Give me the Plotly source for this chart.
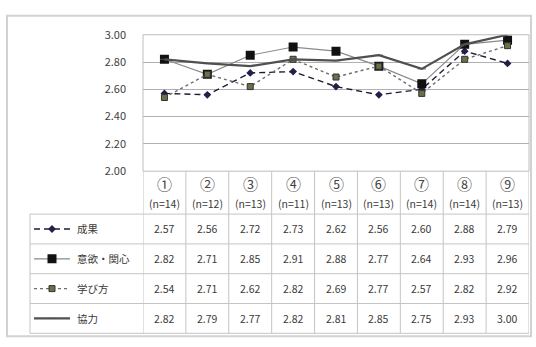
import plotly.graph_objects as go

W, H = 536, 347
groups = ["①", "②", "③", "④", "⑤", "⑥", "⑦", "⑧", "⑨"]
n_counts = [14, 12, 13, 11, 13, 13, 14, 14, 13]
series_names = ["成果", "意欲・関心", "学び方", "協力"]
seika = [2.57, 2.56, 2.72, 2.73, 2.62, 2.56, 2.60, 2.88, 2.79]
iyoku = [2.82, 2.71, 2.85, 2.91, 2.88, 2.77, 2.64, 2.93, 2.96]
manabikata = [2.54, 2.71, 2.62, 2.82, 2.69, 2.77, 2.57, 2.82, 2.92]
kyoryoku = [2.82, 2.79, 2.77, 2.82, 2.81, 2.85, 2.75, 2.93, 3.00]
y_ticks = [2.0, 2.2, 2.4, 2.6, 2.8, 3.0]

values = [seika, iyoku, manabikata, kyoryoku]

def py(p):
    return 1 - p / H

def px(p):
    return p / W

styles = [
    dict(line=dict(color="#1c1c34", width=1.4, dash="6px,4px"),
         marker=dict(symbol="diamond", size=6, color="#20204a")),
    dict(line=dict(color="#8a8a8a", width=1.2),
         marker=dict(symbol="square", size=9, color="#111111")),
    dict(line=dict(color="#6e6e6e", width=1.4, dash="3px,3px"),
         marker=dict(symbol="square", size=6, color="#6b7046", line=dict(color="#333", width=1))),
    dict(line=dict(color="#505050", width=2.2),
         marker=dict(symbol="line-ew", size=6, color="#505050", line=dict(color="#505050", width=1))),
]

fig = go.Figure()
idx = list(range(len(groups)))
for name, vals, st in zip(series_names, values, styles):
    fig.add_trace(go.Scatter(x=idx, y=vals, mode="lines+markers", name=name,
                             line=st["line"], marker=st["marker"],
                             xaxis="x", yaxis="y", showlegend=False))

# legend samples inside the table's left column
for r, (name, st) in enumerate(zip(series_names, styles)):
    yc = 3.5 - r
    fig.add_trace(go.Scatter(x=[4, 22, 40], y=[yc, yc, yc], mode="lines",
                             line=st["line"], xaxis="x2", yaxis="y2",
                             showlegend=False, hoverinfo="skip"))
    fig.add_trace(go.Scatter(x=[22], y=[yc], mode="markers", marker=st["marker"],
                             xaxis="x2", yaxis="y2", showlegend=False, hoverinfo="skip"))

plot_l, plot_r, plot_t, plot_b = 143, 529, 27, 170
table_bottom = 340
header_bottom = 215
leg_l = 30

shapes = []
grid_col = "#c4c4c4"
shapes.append(dict(type="rect", xref="paper", yref="paper", x0=px(7), x1=px(531), y0=py(343), y1=py(7),
                   line=dict(color="#d2d2d2", width=2)))
shapes.append(dict(type="rect", xref="paper", yref="paper", x0=px(plot_l), x1=px(plot_r), y0=py(plot_b), y1=py(plot_t),
                   line=dict(color="#bdbdbd", width=1)))
for i in range(len(groups) + 1):
    shapes.append(dict(type="line", xref="x", yref="paper", x0=i - 0.5, x1=i - 0.5,
                       y0=py(table_bottom), y1=py(plot_b), line=dict(color=grid_col, width=1)))
row_h = (table_bottom - header_bottom) / 4
for r in range(5):
    yy = header_bottom + r * row_h
    shapes.append(dict(type="line", xref="paper", yref="paper", x0=px(leg_l), x1=px(plot_r),
                       y0=py(yy), y1=py(yy), line=dict(color=grid_col, width=1)))
shapes.append(dict(type="line", xref="paper", yref="paper", x0=px(leg_l), x1=px(leg_l),
                   y0=py(table_bottom), y1=py(header_bottom), line=dict(color=grid_col, width=1)))

annotations = []
num_font = dict(family="Liberation Sans Narrow, Noto Sans CJK JP", size=10.5, color="#3a3a3a")
for i, (g, n) in enumerate(zip(groups, n_counts)):
    annotations.append(dict(x=i, y=py(183), xref="x", yref="paper", text=g, showarrow=False,
                            xanchor="center", yanchor="middle",
                            font=dict(family="Noto Sans CJK JP", size=15, color="#444")))
    annotations.append(dict(x=i, y=py(204), xref="x", yref="paper", text=f"(n={n})", showarrow=False,
                            xanchor="center", yanchor="middle", font=num_font))
for r, (name, vals) in enumerate(zip(series_names, values)):
    yc = header_bottom + (r + 0.5) * row_h
    for i, v in enumerate(vals):
        annotations.append(dict(x=i, y=py(yc), xref="x", yref="paper", text=f"{v:.2f}", showarrow=False,
                                xanchor="center", yanchor="middle", font=num_font))
    annotations.append(dict(x=px(75), y=py(yc), xref="paper", yref="paper", text=name, showarrow=False,
                            xanchor="left", yanchor="middle",
                            font=dict(family="Noto Sans CJK JP", size=10.5, color="#3a3a3a")))

fig.update_layout(
    width=W, height=H, margin=dict(l=0, r=0, t=0, b=0),
    paper_bgcolor="white", plot_bgcolor="white",
    shapes=shapes, annotations=annotations,
    xaxis=dict(domain=[px(plot_l), px(plot_r)], range=[-0.5, 8.5], showgrid=False, zeroline=False,
               showticklabels=False, ticks="", fixedrange=True),
    yaxis=dict(domain=[py(plot_b), py(plot_t)], range=[2.0, 3.0], tickvals=y_ticks, tickformat=".2f",
               showgrid=True, gridcolor="#b0b0b0", gridwidth=1, zeroline=False, ticks="",
               ticklabelstandoff=16,
               tickfont=dict(family="Liberation Sans Narrow, Noto Sans CJK JP", size=11, color="#404040")),
    xaxis2=dict(domain=[px(leg_l), px(plot_l)], range=[0, 113], visible=False, fixedrange=True),
    yaxis2=dict(domain=[py(table_bottom), py(header_bottom)], range=[0, 4], visible=False, anchor="x2"),
)

fig.write_html("out.html")
